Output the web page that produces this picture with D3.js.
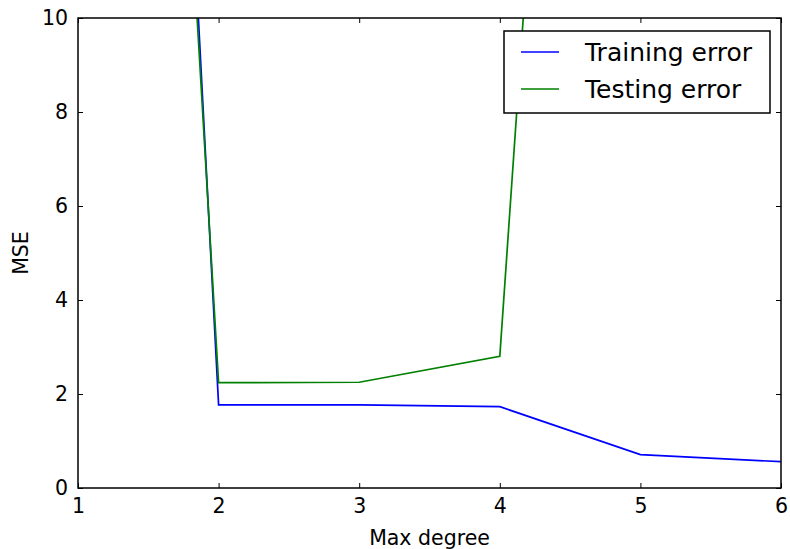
<!DOCTYPE html>
<html>
<head>
<meta charset="utf-8">
<script src="https://cdn.jsdelivr.net/npm/d3@7"></script>
<style>
  body { margin: 0; background: #fff; }
  svg { font-family: 'DejaVu Sans', sans-serif; }
</style>
</head>
<body>
<svg id="chart" width="790" height="549"></svg>
<script>
const degrees = [1, 2, 3, 4, 5, 6];
const trainingError = [59, 1.77, 1.77, 1.73, 0.71, 0.56];
const testingError = [53, 2.24, 2.25, 2.8, 46, 80];
const xTicks = [1, 2, 3, 4, 5, 6];
const yTicks = [0, 2, 4, 6, 8, 10];

const margin = { top: 18, right: 9, bottom: 61, left: 78 };
const width = 790 - margin.left - margin.right;
const height = 549 - margin.top - margin.bottom;

const svg = d3.select('#chart')
  .append('g')
  .attr('transform', `translate(${margin.left},${margin.top})`);

const x = d3.scaleLinear().domain([1, 6]).range([0, width]);
const y = d3.scaleLinear().domain([0, 10]).range([height, 0]);

svg.append('clipPath')
  .attr('id', 'plot-clip')
  .append('rect')
  .attr('width', width)
  .attr('height', height);

const line = d3.line()
  .x((d, i) => x(degrees[i]))
  .y(d => y(d));

const series = [
  { name: 'Training error', values: trainingError, color: '#0000ff' },
  { name: 'Testing error', values: testingError, color: '#008000' }
];

series.forEach(s => {
  svg.append('path')
    .datum(s.values)
    .attr('clip-path', 'url(#plot-clip)')
    .attr('fill', 'none')
    .attr('stroke', s.color)
    .attr('stroke-width', 1.7)
    .attr('d', line);
});

// ticks: inward, on all four sides (matplotlib classic)
const tickLen = 5;
const axisStyle = g => {
  g.attr('font-family', null).attr('font-size', null);
  g.select('.domain').remove();
  g.selectAll('.tick line').attr('stroke', '#000').attr('stroke-width', 1);
  g.selectAll('.tick text').attr('fill', '#000').style('font-size', '20.5px');
};

svg.append('g')
  .attr('transform', `translate(0,${height})`)
  .call(d3.axisBottom(x).tickValues(xTicks).tickSize(-tickLen).tickPadding(10).tickFormat(d3.format('d')))
  .call(axisStyle);

svg.append('g')
  .call(d3.axisTop(x).tickValues(xTicks).tickSize(-tickLen).tickFormat(''))
  .call(axisStyle);

svg.append('g')
  .call(d3.axisLeft(y).tickValues(yTicks).tickSize(-tickLen).tickPadding(10).tickFormat(d3.format('d')))
  .call(axisStyle);

svg.append('g')
  .attr('transform', `translate(${width},0)`)
  .call(d3.axisRight(y).tickValues(yTicks).tickSize(-tickLen).tickFormat(''))
  .call(axisStyle);

svg.append('rect')
  .attr('width', width)
  .attr('height', height)
  .attr('fill', 'none')
  .attr('stroke', '#000')
  .attr('stroke-width', 1.5);

svg.append('text')
  .attr('x', width / 2)
  .attr('y', height + 57)
  .attr('text-anchor', 'middle')
  .style('font-size', '20.5px')
  .text('Max degree');

svg.append('text')
  .attr('transform', `translate(${-50},${height / 2}) rotate(-90)`)
  .attr('text-anchor', 'middle')
  .style('font-size', '20.5px')
  .text('MSE');

// legend
const legend = svg.append('g')
  .attr('transform', `translate(${x(1) + 426},${13})`);

legend.append('rect')
  .attr('width', 266)
  .attr('height', 82)
  .attr('fill', '#fff')
  .attr('stroke', '#000')
  .attr('stroke-width', 1.5);

series.forEach((s, i) => {
  const row = legend.append('g').attr('transform', `translate(0,${21 + i * 37})`);
  row.append('line')
    .attr('x1', 17).attr('x2', 55)
    .attr('stroke', s.color)
    .attr('stroke-width', 1.7);
  row.append('text')
    .attr('x', 81)
    .attr('dy', '0.35em')
    .style('font-size', '25px')
    .text(s.name);
});
</script>
</body>
</html>
